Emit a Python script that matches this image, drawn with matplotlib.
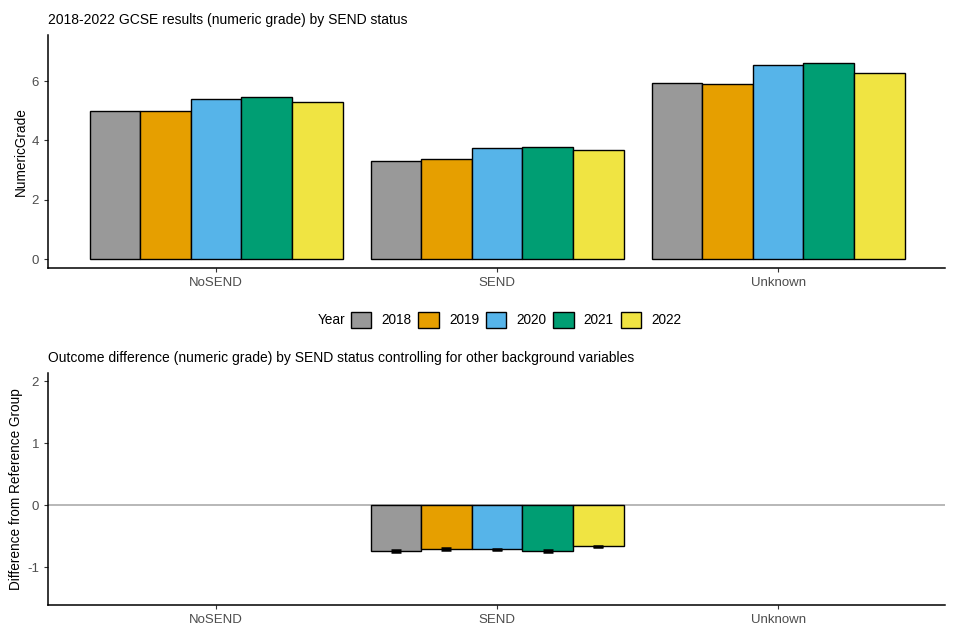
import numpy as np
import matplotlib.pyplot as plt
from matplotlib.patches import Patch

plt.rcParams['font.family'] = ['Liberation Sans', 'DejaVu Sans']
plt.rcParams['axes.unicode_minus'] = False

groups = ["NoSEND", "SEND", "Unknown"]
years = ["2018", "2019", "2020", "2021", "2022"]
colours = ["#999999", "#E69F00", "#56B4E9", "#009E73", "#F0E442"]

# top panel: mean numeric grade per group, one list per year
grade = {
    "2018": [4.99, 3.30, 5.93],
    "2019": [5.00, 3.37, 5.90],
    "2020": [5.39, 3.74, 6.54],
    "2021": [5.47, 3.77, 6.61],
    "2022": [5.29, 3.67, 6.27],
}

# bottom panel: difference from reference group (only SEND has a value)
diff = [-0.742, -0.705, -0.715, -0.742, -0.666]
diff_err = [0.012, 0.011, 0.011, 0.012, 0.011]

fig = plt.figure(figsize=(9.6, 6.4), dpi=100)
ax1 = fig.add_axes([48 / 960, 1 - 268 / 640, 897 / 960, 233 / 640])
ax2 = fig.add_axes([48 / 960, 1 - 605 / 640, 897 / 960, 232 / 640])

x = np.arange(len(groups))
w = 0.18
offs = (np.arange(len(years)) - 2) * w

for i, yr in enumerate(years):
    ax1.bar(x + offs[i], grade[yr], width=w, color=colours[i],
            edgecolor="black", linewidth=1.0, zorder=2)

ax2.axhline(0, color="#ababab", linewidth=1.2, zorder=1)
for i, yr in enumerate(years):
    ax2.bar(1 + offs[i], diff[i], width=w, color=colours[i],
            edgecolor="black", linewidth=1.0, zorder=2)
    ax2.errorbar(1 + offs[i], diff[i], yerr=diff_err[i], fmt="none",
                 ecolor="black", elinewidth=1.5, capsize=3.6, capthick=1.8,
                 zorder=3)

for ax in (ax1, ax2):
    ax.set_xlim(-0.598, 2.594)
    ax.set_xticks(x)
    ax.set_xticklabels(groups)
    for s in ("top", "right"):
        ax.spines[s].set_visible(False)
    for s in ("left", "bottom"):
        ax.spines[s].set_linewidth(1.1)
    ax.tick_params(axis="both", labelsize=9.5, length=3, width=0.8,
                   color="#333333", labelcolor="#4d4d4d")

ax1.set_ylim(-0.30, 7.55)
ax1.set_yticks([0, 2, 4, 6])
ax1.set_ylabel("NumericGrade", fontsize=9.8, labelpad=3)
ax1.set_title("2018-2022 GCSE results (numeric grade) by SEND status",
              loc="left", fontsize=10, pad=8)

ax2.set_ylim(-1.61, 2.13)
ax2.set_yticks([-1, 0, 1, 2])
ax2.set_ylabel("Difference from Reference Group", fontsize=9.8, labelpad=3)
ax2.set_title("Outcome difference (numeric grade) by SEND status controlling for other background variables",
              loc="left", fontsize=10, pad=8)

handles = [Patch(facecolor=c, edgecolor="black", linewidth=1.0) for c in colours]
fig.text(318 / 960, 1 - 320 / 640, "Year", fontsize=9.8, va="center", ha="left")
fig.legend(handles, years, ncol=5, loc="center", frameon=False,
           bbox_to_anchor=(516 / 960, 1 - 320 / 640), fontsize=9.8,
           handlelength=1.5, handleheight=1.5, handletextpad=0.75,
           columnspacing=0.5)

fig.savefig("out.png", dpi=100)
